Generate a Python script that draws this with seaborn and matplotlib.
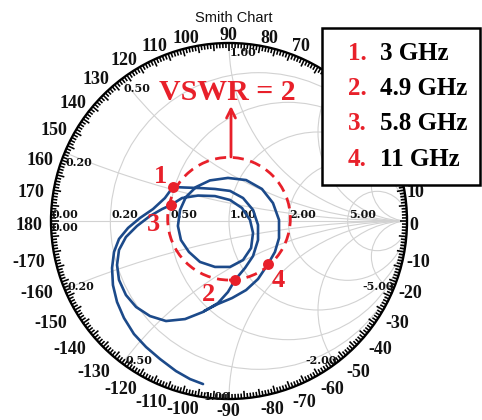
import numpy as np
import pandas as pd
import matplotlib
matplotlib.use("Agg")
import matplotlib.pyplot as plt
from matplotlib.patches import Circle, Rectangle
from matplotlib.collections import LineCollection
import seaborn as sns

# ---------------- data (reflection coefficient) ----------------
gamma_re = [-0.146, -0.219, -0.298, -0.388, -0.466, -0.534, -0.590, -0.629, -0.652, -0.657,
            -0.646, -0.618, -0.567, -0.500, -0.427, -0.360, -0.315,
            -0.247, -0.163, -0.079, 0.006, 0.079, 0.135, 0.163, 0.163, 0.135, 0.090, 0.034,
            -0.006, -0.062, -0.146, -0.247, -0.354, -0.444, -0.522, -0.579, -0.618, -0.629,
            -0.618, -0.579, -0.517, -0.444, -0.376, -0.326,
            -0.264, -0.174, -0.079, 0.006, 0.073, 0.118, 0.135, 0.124, 0.079, 0.006,
            -0.079, -0.163, -0.225, -0.270, -0.287, -0.275, -0.242, -0.185, -0.107, -0.006,
            0.096, 0.185, 0.247, 0.281, 0.281, 0.258, 0.219, 0.163, 0.096, 0.017, -0.062, -0.140]
gamma_im = [-0.916, -0.888, -0.843, -0.775, -0.708, -0.635, -0.545, -0.455, -0.360, -0.264,
            -0.174, -0.101, -0.039, 0.017, 0.067, 0.129, 0.191,
            0.188, 0.185, 0.180, 0.169, 0.129, 0.062, -0.022, -0.107, -0.197, -0.264, -0.331,
            -0.399, -0.461, -0.511, -0.551, -0.562, -0.534, -0.483, -0.416, -0.331, -0.247,
            -0.163, -0.090, -0.028, 0.028, 0.067, 0.090,
            0.129, 0.143, 0.140, 0.118, 0.073, 0.006, -0.067, -0.152, -0.219, -0.258,
            -0.258, -0.230, -0.174, -0.107, -0.028, 0.062, 0.135, 0.191, 0.228, 0.242,
            0.230, 0.180, 0.101, 0.006, -0.096, -0.174, -0.242, -0.326, -0.388, -0.433, -0.466, -0.506]

marker_ids = ["1", "2", "3", "4"]
marker_freqs = ["3 GHz", "4.9 GHz", "5.8 GHz", "11 GHz"]
marker_re = [-0.315, 0.034, -0.326, 0.219]
marker_im = [0.191, -0.331, 0.090, -0.242]

grid_r = [0.2, 0.5, 1.0, 2.0, 5.0]
grid_x = [0.2, 0.5, 1.0, 2.0, 5.0]
angle_labels = list(range(-170, 181, 10))
hidden_angles = [20, 30, 40, 50, 60]      # covered by the legend box
vswr = 2
title = "Smith Chart"

# ---------------- style ----------------
sns.set_theme(style="white")
BLUE = "#1c4a8a"
RED = "#e8202a"
GRAY = "#d2d2d2"
SERIF = ["Liberation Serif", "DejaVu Serif"]

W, H = 482, 420
CX, CY, R = 229, 221, 178
px = 1.0 / R

fig = plt.figure(figsize=(W / 100, H / 100), dpi=100)
ax = fig.add_axes([0, 0, 1, 1])
ax.set_xlim(-CX / R, (W - CX) / R)
ax.set_ylim(-(H - CY) / R, CY / R)
ax.axis("off")

clip = Circle((0, 0), 1, transform=ax.transData, fc="none", ec="none")
ax.add_patch(clip)

# Smith grid
for r in grid_r:
    c = Circle((r / (1 + r), 0), 1 / (1 + r), fill=False, ec=GRAY, lw=0.8, zorder=1)
    ax.add_patch(c)
    c.set_clip_path(clip)
for xv in grid_x:
    for s in (1, -1):
        c = Circle((1, s / xv), 1 / xv, fill=False, ec=GRAY, lw=0.8, zorder=1)
        ax.add_patch(c)
        c.set_clip_path(clip)
ax.plot([-1, 1], [0, 0], color=GRAY, lw=0.8, zorder=1)

# rim and ticks
ax.add_patch(Circle((0, 0), 1, fill=False, ec="black", lw=1.7, zorder=3))
segs = []
for d in range(360):
    t = np.deg2rad(d)
    L = (7.5 if d % 5 == 0 else 5) * px
    segs.append([(np.cos(t), np.sin(t)), ((1 - L) * np.cos(t), (1 - L) * np.sin(t))])
ax.add_collection(LineCollection(segs, colors="black", linewidths=1.15, zorder=3))

# angle labels
for a in angle_labels:
    if a in hidden_angles:
        continue
    t = np.deg2rad(a)
    c, s = np.cos(t), np.sin(t)
    ax0, ay0 = 190 * c, 190 * s          # anchor in pixels relative to centre
    if abs(c) < 0.05:
        ha, dx = "center", -0.5
    elif c < 0:
        ha, dx = "right", 3
    else:
        ha, dx = "left", -1 - 9 * c * c
    if s < -0.05:
        dy = 2.0 - 8.5 * abs(c)
    else:
        dy = -2.5
    ax.text((ax0 + dx) * px, (ay0 + dy) * px, str(a), ha=ha, va="center_baseline",
            fontsize=13, fontweight="bold", family=SERIF, color="#111111", zorder=4)

# resistance labels on real axis
lab_kw = dict(fontsize=8, fontweight="bold", family="DejaVu Serif", color="#111111", zorder=4)
ax.text(-1 + 1 * px, 1 * px, "0.00", ha="left", va="bottom", **lab_kw)
ax.text(-1 + 1 * px, -1 * px, "0.00", ha="left", va="top", **lab_kw)
for r in grid_r:
    g = (r - 1) / (r + 1)
    ax.text(g + 1 * px, 1 * px, f"{r:.2f}", ha="left", va="bottom", **lab_kw)

# reactance labels at rim
for xv in grid_x:
    for s in (1, -1):
        z = complex(0, s * xv)
        g = (z - 1) / (z + 1)
        if s > 0:
            if g.real > 0.5:
                continue                  # under the legend box
            txt = f"{xv:.2f}"
            va, dy = "top", -4
            ha, dx = ("left", 1) if g.real <= 0.01 else ("right", 0)
        else:
            va, dy = "bottom", -3
            if g.real < -0.01:
                txt, ha, dx = f"{xv:.2f}", "left", 3
            elif abs(g.real) <= 0.01:
                txt, ha, dx = f"{xv:.2f}", "right", 1
            else:
                txt, ha, dx = f"-{xv:.2f}", "right", 1
        ax.text(g.real + dx * px, g.imag + dy * px, txt, ha=ha, va=va, **lab_kw)

# title
ax.text((234 - CX) * px, (CY - 16) * px, title, ha="center", va="center_baseline",
        fontsize=10.5, family="Liberation Sans", color="#111111", zorder=4)

# impedance trace
df = pd.DataFrame({"re": gamma_re, "im": gamma_im, "order": np.arange(len(gamma_re))})
sns.lineplot(data=df, x="re", y="im", sort=False, estimator=None, color=BLUE, lw=1.9,
             ax=ax, legend=False, zorder=5)

# VSWR = 2 circle
rv = (vswr - 1) / (vswr + 1)
ax.add_patch(Circle((0, 2.3 * px), rv + 2 * px, fill=False, ec=RED, lw=2.0,
                    linestyle=(0, (4.0, 2.4)), zorder=6))

# markers
mdf = pd.DataFrame({"re": marker_re, "im": marker_im, "id": marker_ids})
sns.scatterplot(data=mdf, x="re", y="im", color=RED, s=62, edgecolor=RED, linewidth=0,
                ax=ax, legend=False, zorder=7)
label_off = [(-12, 13), (-27, -12), (-18, -17), (10, -14)]
for (mx, my, mid, (ox, oy)) in zip(marker_re, marker_im, marker_ids, label_off):
    ax.annotate(mid, xy=(mx, my), xytext=(ox, oy), textcoords="offset pixels",
                ha="center", va="center_baseline", fontsize=19, fontweight="bold",
                family=SERIF, color=RED, zorder=8)

# VSWR annotation
ax.text((227 - CX) * px, (CY - 90) * px, f"VSWR = {vswr}", ha="center", va="center_baseline",
        fontsize=21.5, fontweight="bold", family=SERIF, color=RED, zorder=8)
ax.annotate("", xy=(2 * px, (CY - 106) * px), xytext=(2 * px, (CY - 157) * px),
            arrowprops=dict(arrowstyle="->", color=RED, lw=2.0, mutation_scale=16,
                            shrinkA=0, shrinkB=0), zorder=8)

# legend box
x0, x1 = (322 - CX) * px, (480 - CX) * px
yt, yb = (CY - 28) * px, (CY - 185) * px
ax.add_patch(Rectangle((x0, yb), x1 - x0, yt - yb, fc="white", ec="black", lw=1.8, zorder=10))
for i, (mid, fq) in enumerate(zip(marker_ids, marker_freqs)):
    yc = (CY - (50.5 + 35.5 * i)) * px
    ax.text((348 - CX) * px, yc, mid + ".", ha="left", va="center_baseline", fontsize=18,
            fontweight="bold", family=SERIF, color=RED, zorder=11)
    ax.text((380 - CX) * px, yc, fq, ha="left", va="center_baseline", fontsize=18,
            fontweight="bold", family=SERIF, color="black", zorder=11)

fig.savefig("out.png", dpi=100, facecolor="white")
